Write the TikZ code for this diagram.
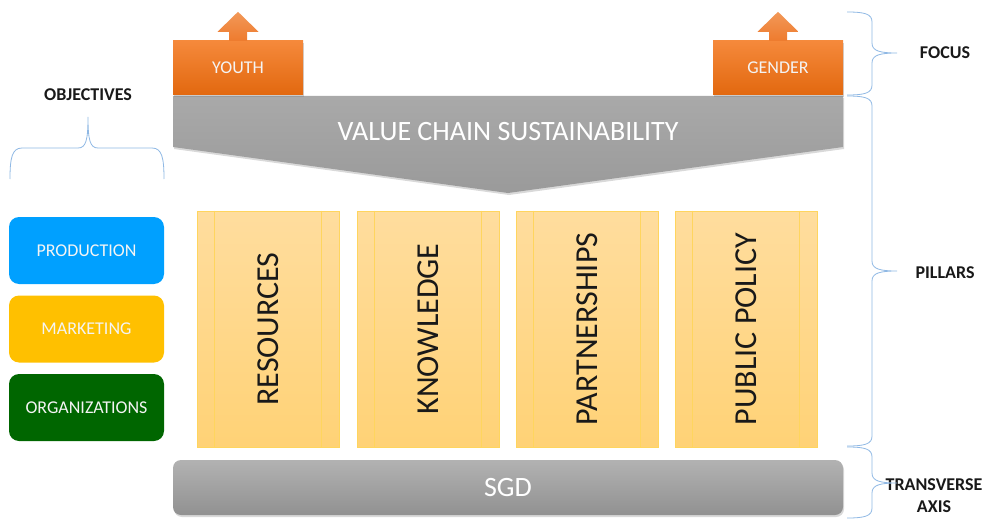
\documentclass[tikz,border=0pt]{standalone}
\usepackage{fontspec}
\setmainfont{Carlito}
\usetikzlibrary{shadows}

\definecolor{orangeTop}{HTML}{F5893B}
\definecolor{orangeBot}{HTML}{E2680F}
\definecolor{arrowTop}{HTML}{F29858}
\definecolor{arrowBot}{HTML}{EE7B2E}
\definecolor{greyTop}{HTML}{A9A9A9}
\definecolor{greyBot}{HTML}{9A9A9A}
\definecolor{sgdTop}{HTML}{B2B2B2}
\definecolor{sgdBot}{HTML}{919191}
\definecolor{pillTop}{HTML}{FFDD9E}
\definecolor{pillBot}{HTML}{FFD276}
\definecolor{pillLine}{HTML}{FFD55E}
\definecolor{braceCol}{HTML}{8FB8E4}
\definecolor{prodBlue}{HTML}{00A0FF}
\definecolor{mktYellow}{HTML}{FFC000}
\definecolor{orgGreen}{HTML}{006600}
\definecolor{lightText}{HTML}{F4F4F4}

% right-hand curly brace: top y, tip y, bottom y
\newcommand\sidebrace[3]{%
  \draw[bracestyle] (847,#1) .. controls (865,#1) and (872,#1+2) .. (872,#1+10)
    -- (872,#2-10) .. controls (872,#2-2) and (880,#2) .. (897,#2)
    .. controls (880,#2) and (872,#2+2) .. (872,#2+10)
    -- (872,#3-10) .. controls (872,#3-2) and (865,#3) .. (847,#3);}

\begin{document}
\begin{tikzpicture}[x=1pt,y=-1pt,
  focusbox/.style={rectangle, minimum width=130pt, minimum height=54pt, inner sep=0pt,
    top color=orangeTop, bottom color=orangeBot, text=lightText,
    font=\fontsize{18}{20}\selectfont,
    drop shadow={opacity=0.35, shadow xshift=1pt, shadow yshift=-2pt}},
  uparrow/.style={top color=arrowTop, bottom color=arrowBot},
  objbox/.style={rectangle, rounded corners=10pt, minimum width=155pt, minimum height=67pt,
    inner sep=0pt, text=lightText, font=\fontsize{18}{20}\selectfont},
  pillar/.style={rectangle, minimum width=142pt, minimum height=236pt, inner sep=0pt,
    top color=pillTop, bottom color=pillBot, draw=pillLine, line width=0.8pt},
  pillline/.style={draw=pillLine, line width=0.8pt},
  pilltext/.style={rotate=90, text=black!90, font=\fontsize{32}{34}\selectfont},
  bigtext/.style={text=white, font=\fontsize{28}{30}\selectfont},
  heading/.style={text=black!90, font=\bfseries\fontsize{18}{22}\selectfont, align=center},
  bracestyle/.style={draw=braceCol, line width=0.8pt}
]
\useasboundingbox (0,0) rectangle (986,527);

% value chain chevron
\path[top color=greyTop, bottom color=greyBot,
      drop shadow={opacity=0.3, shadow xshift=1pt, shadow yshift=-2pt}]
  (173,96) -- (843,96) -- (843,147) -- (508,193) -- (173,147) -- cycle;
\node[bigtext] (vcs) at (508,132) {VALUE CHAIN SUSTAINABILITY};

% focus boxes with arrows
\node[focusbox] (youth) at (238,68) {YOUTH};
\node[focusbox] (gender) at (778,68) {GENDER};
\foreach \b in {youth,gender}{
  \path[uparrow] ([xshift=-9pt]\b.north) -- ++(0,-9) -- ++(-11.5,0) -- ++(20.5,-20)
    -- ++(20.5,20) -- ++(-11.5,0) -- ++(0,9) -- cycle;
}

% pillars
\foreach \n/\cx/\t in {res/268/RESOURCES, know/428/KNOWLEDGE, part/587/PARTNERSHIPS, pol/746/PUBLIC POLICY}{
  \node[pillar] (\n) at (\cx,329) {};
  \draw[pillline] ([xshift=18pt]\n.north west) -- ([xshift=18pt]\n.south west);
  \draw[pillline] ([xshift=-18pt]\n.north east) -- ([xshift=-18pt]\n.south east);
  \node[pilltext] (\n-label) at (\n.center) {\t};
}

% transverse axis bar
\node[rectangle, rounded corners=8pt, minimum width=670pt, minimum height=55pt, inner sep=0pt,
      top color=sgdTop, bottom color=sgdBot, bigtext,
      drop shadow={opacity=0.3, shadow xshift=1pt, shadow yshift=-2pt}] (sgd) at (508,487.5) {SGD};

% objectives
\node[objbox, fill=prodBlue] (prod) at (86.5,250.5) {PRODUCTION};
\node[objbox, fill=mktYellow] (mkt) at (86.5,329) {MARKETING};
\node[objbox, fill=orgGreen] (org) at (86.5,407.5) {ORGANIZATIONS};

% headings
\node[heading] (objh) at (88,95) {OBJECTIVES};
\node[heading] (focush) at (945,53) {FOCUS};
\node[heading] (pillh) at (945,273) {PILLARS};
\node[heading] (transh) at (934,496) {TRANSVERSE\\AXIS};

% braces
\draw[bracestyle] (10,179) .. controls (10,158) and (12,148) .. (22,148) -- (78,148)
  .. controls (86,148) and (88,140) .. (88,117)
  .. controls (88,140) and (90,148) .. (98,148) -- (152,148)
  .. controls (162,148) and (164,158) .. (164,179);
\sidebrace{12}{53}{95}
\sidebrace{96}{271}{446}
\sidebrace{447}{483}{518}
\end{tikzpicture}
\end{document}
